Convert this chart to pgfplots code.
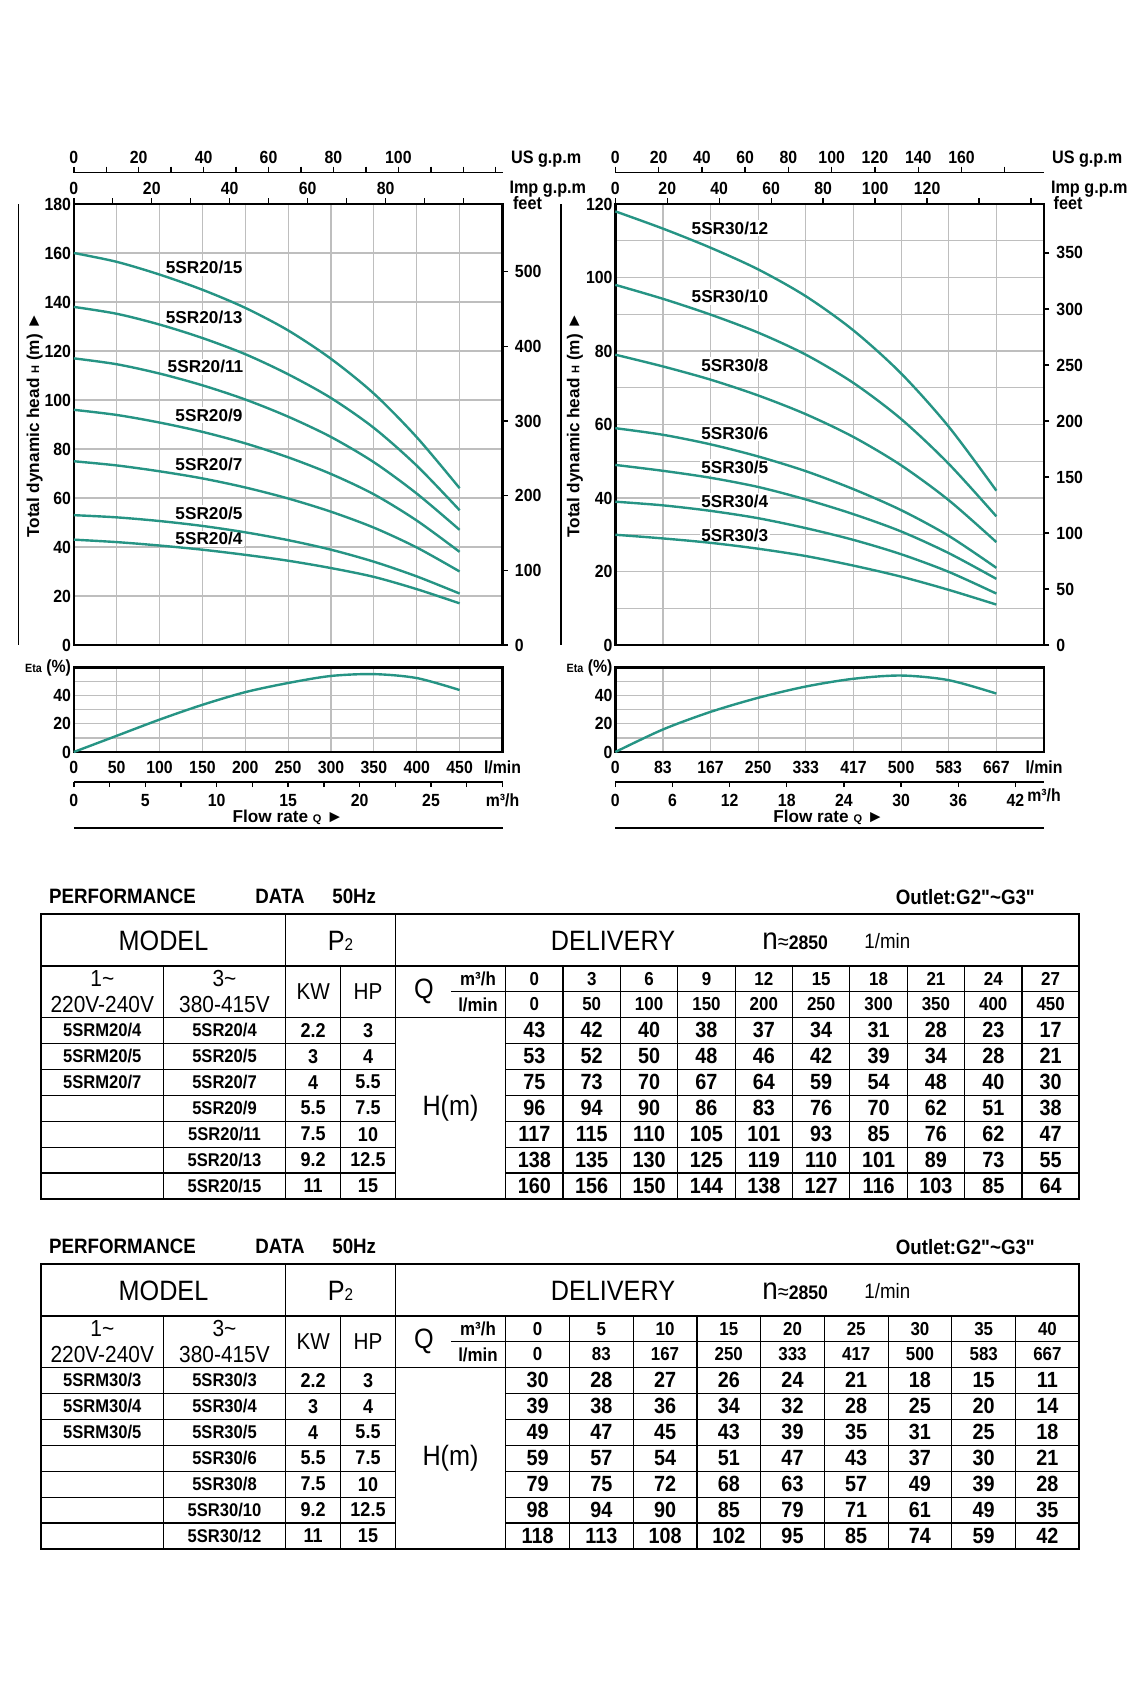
\documentclass[border=0pt]{standalone}
\usepackage{fontspec}
\setmainfont{Liberation Sans}[FakeStretch=0.9]
\newfontfamily\widefont{Liberation Sans}
\newfontfamily\rawfont{Liberation Sans}[FakeStretch=0.9, Ligatures=TeXOff]
\usepackage{pgfplots}
\usepackage{pgfplotstable}
\pgfplotsset{compat=1.18}
\pgfplotsset{/pgf/number format/assume math mode=true}
\definecolor{curvec}{RGB}{38,148,132}
\definecolor{gridc}{RGB}{190,190,190}

% curves (Q in l/min, H in m)
\pgfplotstableread{
Q H4 H5 H7 H9 H11 H13 H15
0 43 53 75 96 117 138 160
50 42 52.1 73.3 93.9 114.6 135.2 156.4
100 40.6 50.6 70.9 90.8 110.8 130.8 151.2
150 38.9 48.6 68.0 87.0 106.0 125.3 145.0
200 36.8 46.0 64.3 82.3 100.2 118.7 137.6
250 34.4 42.8 59.8 76.6 93.2 110.5 128.4
300 31.4 38.9 54.4 69.8 84.9 100.8 116.8
350 27.8 34.0 47.9 61.5 74.6 88.6 102.6
400 22.8 28.0 39.8 50.8 61.8 73.2 84.8
450 17 21 30 38 47 55 64
}\tabA

\pgfplotstableread{
Q H3 H4 H5 H6 H8 H10 H12
0 30 39 49 59 79 98 118
83.33 29.0 38.0 47.4 57.2 75.8 94.2 113.3
166.67 27.8 36.5 45.5 54.6 72.2 89.9 108.1
250 26.2 34.5 43.0 51.3 67.9 85.0 102.2
333.33 24.2 31.8 39.6 47.3 62.8 79.0 94.9
416.67 21.6 28.6 35.6 42.4 56.6 71.3 85.6
500 18.6 24.7 30.9 36.7 48.9 61.5 73.9
583.33 15.0 19.9 25.0 29.7 39.4 49.3 59.4
666.67 11 14 18 21 28 35 42
}\tabB

\pgfplotstableread{
Q Eta
0 0
50 11.5
100 23
150 33.5
200 42.5
250 49
300 54
350 55.3
400 52.5
450 44
}\etaA

\pgfplotstableread{
Q Eta
0 0
83.33 16
166.67 28.5
250 38.5
333.33 46.5
416.67 52
500 54.3
583.33 51
666.67 41.5
}\etaB

\newcommand\tickfont{\bfseries\fontsize{8.8}{10}\selectfont}
\newcommand\lblfont{\widefont\bfseries\fontsize{8.6}{10}\selectfont}

\pgfplotsset{
  mainax/.style={scale only axis, anchor=south west, width=214.35pt,
    axis line style={line width=1.2pt}, grid=major,
    grid style={gridc,line width=0.6pt}, major tick length=0pt,
    ticklabel style={font=\tickfont}, yticklabel style={inner xsep=1.2pt},
    xticklabel style={text height=6.4pt, yshift=-1pt},
    clip=false},
  thinax/.style={scale only axis, width=214.35pt, height=1pt, ymin=0, ymax=1,
    hide y axis, tick align=outside, major tick length=3pt,
    tick style={black,line width=0.7pt},
    ticklabel style={font=\tickfont}, xticklabel style={text height=6.4pt}},
  topax/.style={thinax, axis x line*=top, anchor=north west, xticklabel style={yshift=-1.9pt}},
  cplot/.style={curvec, line width=1.2pt, smooth, tension=0.5, no markers},
}

\tikzset{
  clabel/.style={font=\lblfont, anchor=east, fill=white, inner sep=0.8pt},
  tv/.style={font=\bfseries\fontsize{11}{12}\selectfont},
  tm/.style={font=\bfseries\fontsize{9.2}{10}\selectfont},
  tk/.style={font=\bfseries\fontsize{10}{11}\selectfont},
  tq/.style={font=\bfseries\fontsize{9.4}{10}\selectfont},
  tl/.style={line width=0.6pt},
  hd/.style={anchor=west, inner xsep=0pt, font=\bfseries\fontsize{10.4}{11}\selectfont},
}

\newcommand\mrow[5]{%
  \node[tm] at (102.3,{1030.28+#1*25.96}) {#2};
  \node[tm] at (224.5,{1030.28+#1*25.96}) {#3};
  \node[tk] at (313.2,{1030.28+#1*25.96}) {#4};
  \node[tk] at (368.0,{1030.28+#1*25.96}) {#5};
}

\newcommand\tableframe{%
  \draw[tl] (41.4,966) -- (1079.3,966) (451.4,991.7) -- (1079.3,991.7) (41.4,1017.3) -- (1079.3,1017.3);
  \foreach \yy in {1043.26,1069.22,1095.18,1121.14,1147.1,1173.06}
     \draw[tl] (41.4,\yy) -- (395.4,\yy) (505.7,\yy) -- (1079.3,\yy);
  \draw[tl] (163.2,966) -- (163.2,1199) (285.7,914) -- (285.7,1199)
            (340.7,966) -- (340.7,1199) (395.4,914) -- (395.4,1199)
            (505.7,966) -- (505.7,1199);
  \draw[line width=1pt] (41.4,914) rectangle (1079.3,1199);
  \node[hd] at (48.8,896.7) {PERFORMANCE};
  \node[hd] at (255,896.7) {DATA};
  \node[hd] at (332,896.7) {50Hz};
  \node[hd] at (895.5,897) {\rawfont Outlet:G2"\textasciitilde G3"};
  \node[font=\fontsize{14}{15}\selectfont] at (163.5,940.5) {MODEL};
  \node[font=\fontsize{14}{15}\selectfont] at (340.5,940.5) {P{\fontsize{8.5}{9}\selectfont 2}};
  \node[font=\fontsize{14}{15}\selectfont] at (613,940.5) {DELIVERY};
  \node[anchor=west, inner xsep=0pt] at (762,941) {{\fontsize{15.5}{15}\selectfont n}{\fontsize{11}{11}\selectfont ≈}{\fontsize{9.8}{10}\selectfont\bfseries 2850}};
  \node[anchor=west, inner xsep=0pt, font=\fontsize{10.4}{11}\selectfont] at (864,941) {1/min};
  \node[font=\fontsize{11.6}{12}\selectfont] at (102.3,978.5) {1\textasciitilde};
  \node[font=\fontsize{11.6}{12}\selectfont] at (102.3,1004.5) {220V-240V};
  \node[font=\fontsize{11.6}{12}\selectfont] at (224.5,978.5) {3\textasciitilde};
  \node[font=\fontsize{11.6}{12}\selectfont] at (224.5,1004.5) {380-415V};
  \node[font=\fontsize{11.5}{12}\selectfont] at (313.2,991.5) {KW};
  \node[font=\fontsize{11.5}{12}\selectfont] at (368,991.5) {HP};
  \node[font=\fontsize{14}{15}\selectfont] at (423.8,991.5) {Q};
  \node[tq] at (478,978.9) {m³/h};
  \node[tq] at (478,1004.5) {l/min};
  \node[font=\fontsize{14}{15}\selectfont] at (450.5,1108.3) {H(m)};
}

\begin{document}
\begin{tikzpicture}
\path[use as bounding box] (0pt,0pt) rectangle (566.5pt,-851pt);

% ================= LEFT CHART =================
\begin{axis}[mainax, at={(36.9pt,-322.5pt)}, height=220.5pt,
  xmin=0, xmax=500, ymin=0, ymax=180,
  xtick={0,50,...,500}, xticklabels={}, ytick={0,20,...,180}]
  \node[clabel] at (axis cs:199,154) {5SR20/15};
  \node[clabel] at (axis cs:199,133.6) {5SR20/13};
  \node[clabel] at (axis cs:200,113.6) {5SR20/11};
  \node[clabel] at (axis cs:199,93.9) {5SR20/9};
  \node[clabel] at (axis cs:199,73.9) {5SR20/7};
  \node[clabel] at (axis cs:199,53.8) {5SR20/5};
  \node[clabel] at (axis cs:199,43.4) {5SR20/4};
  \addplot[cplot] table[x=Q,y=H4]{\tabA};
  \addplot[cplot] table[x=Q,y=H5]{\tabA};
  \addplot[cplot] table[x=Q,y=H7]{\tabA};
  \addplot[cplot] table[x=Q,y=H9]{\tabA};
  \addplot[cplot] table[x=Q,y=H11]{\tabA};
  \addplot[cplot] table[x=Q,y=H13]{\tabA};
  \addplot[cplot] table[x=Q,y=H15]{\tabA};
\end{axis}
% feet axis
\begin{axis}[scale only axis, anchor=south west, at={(36.9pt,-322.5pt)}, width=214.35pt, height=220.5pt,
  xmin=0, xmax=500, ymin=0, ymax=590.551, hide x axis, axis y line*=right,
  axis line style={draw=none}, ytick={0,100,...,500}, tick align=outside,
  major tick length=2.7pt, tick style={black,line width=0.7pt},
  ticklabel style={font=\tickfont}]
  \addplot[draw=none] coordinates {(0,0)};
\end{axis}
% Imp gpm
\begin{axis}[topax, at={(36.9pt,-102pt)},
  axis line style={draw=none}, xmin=0, xmax=109.985,
  xtick={0,10,...,100}, xticklabels={0,,20,,40,,60,,80,,}]
  \addplot[draw=none] coordinates {(0,0)};
\end{axis}
% US gpm
\begin{axis}[topax, at={(36.9pt,-86.3pt)},
  axis line style={line width=0.9pt}, xmin=0, xmax=132.09,
  xtick={0,10,...,130}, xticklabels={0,,20,,40,,60,,80,,100,,,}]
  \addplot[draw=none] coordinates {(0,0)};
\end{axis}
% Eta
\begin{axis}[mainax, at={(36.9pt,-376pt)}, height=42.25pt,
  xmin=0, xmax=500, ymin=0, ymax=60,
  xtick={0,50,...,500}, xticklabels={0,50,100,150,200,250,300,350,400,450,l/min},
  ytick={0,10,...,60}, yticklabels={0,,20,,40,,{{\fontsize{6}{6}\selectfont Eta} (\%)}}]
  \addplot[cplot] table[x=Q,y=Eta]{\etaA};
\end{axis}
% m3/h
\begin{axis}[thinax, anchor=south west, at={(36.9pt,-391pt)}, axis x line*=bottom,
  axis line style={line width=0.9pt}, xmin=0, xmax=30,
  major tick length=2.5pt,
  xtick={0,2.5,...,30}, xticklabels={0,,5,,10,,15,,20,,25,,m³/h}]
  \addplot[draw=none] coordinates {(0,0)};
\end{axis}
\node[font=\lblfont] at (144pt,-408.5pt) {Flow rate {\fontsize{5.5}{6}\selectfont Q} ►};
\node[font=\lblfont, rotate=90] at (17.35pt,-212.5pt) {Total dynamic head {\fontsize{5.5}{6}\selectfont H} (m) ►};
\node[font=\bfseries\fontsize{9}{10}\selectfont, anchor=base west] at (252pt,-81.6pt) {US g.p.m};
\node[font=\bfseries\fontsize{9}{10}\selectfont, anchor=base west] at (251.25pt,-96.85pt) {Imp g.p.m};
\node[font=\bfseries\fontsize{9}{10}\selectfont, anchor=base] at (263.75pt,-104.75pt) {feet};
\draw[line width=0.9pt] (9.25pt,-102pt) -- (9.25pt,-322.5pt);
\draw[line width=0.9pt] (36.9pt,-414pt) -- (251.25pt,-414pt);

% ================= RIGHT CHART =================
\begin{axis}[mainax, at={(307.65pt,-322.5pt)}, height=220.5pt,
  xmin=0, xmax=750, ymin=0, ymax=120,
  xtick={0,83.333,166.667,250,333.333,416.667,500,583.333,666.667,750}, xticklabels={},
  ytick={0,10,...,120}, yticklabels={0,,20,,40,,60,,80,,100,,120}]
  \node[clabel] at (axis cs:271,113.4) {5SR30/12};
  \node[clabel] at (axis cs:271,94.8) {5SR30/10};
  \node[clabel] at (axis cs:271,76.2) {5SR30/8};
  \node[clabel] at (axis cs:271,57.6) {5SR30/6};
  \node[clabel] at (axis cs:271,48.4) {5SR30/5};
  \node[clabel] at (axis cs:271,39.2) {5SR30/4};
  \node[clabel] at (axis cs:271,29.7) {5SR30/3};
  \addplot[cplot] table[x=Q,y=H3]{\tabB};
  \addplot[cplot] table[x=Q,y=H4]{\tabB};
  \addplot[cplot] table[x=Q,y=H5]{\tabB};
  \addplot[cplot] table[x=Q,y=H6]{\tabB};
  \addplot[cplot] table[x=Q,y=H8]{\tabB};
  \addplot[cplot] table[x=Q,y=H10]{\tabB};
  \addplot[cplot] table[x=Q,y=H12]{\tabB};
\end{axis}
\begin{axis}[scale only axis, anchor=south west, at={(307.65pt,-322.5pt)}, width=214.35pt, height=220.5pt,
  xmin=0, xmax=750, ymin=0, ymax=393.7, hide x axis, axis y line*=right,
  axis line style={draw=none}, ytick={0,50,...,350}, tick align=outside,
  major tick length=2.7pt, tick style={black,line width=0.7pt},
  ticklabel style={font=\tickfont}]
  \addplot[draw=none] coordinates {(0,0)};
\end{axis}
\begin{axis}[topax, at={(307.65pt,-102pt)},
  axis line style={draw=none}, xmin=0, xmax=164.98,
  xtick={0,20,...,160}, xticklabels={0,20,40,60,80,100,120,,}]
  \addplot[draw=none] coordinates {(0,0)};
\end{axis}
\begin{axis}[topax, at={(307.65pt,-86.3pt)},
  axis line style={line width=0.9pt}, xmin=0, xmax=198.13,
  xtick={0,20,...,180}, xticklabels={0,20,40,60,80,100,120,140,160,}]
  \addplot[draw=none] coordinates {(0,0)};
\end{axis}
\begin{axis}[mainax, at={(307.65pt,-376pt)}, height=42.25pt,
  xmin=0, xmax=750, ymin=0, ymax=60,
  xtick={0,83.333,166.667,250,333.333,416.667,500,583.333,666.667,750},
  xticklabels={0,83,167,250,333,417,500,583,667,l/min},
  ytick={0,10,...,60}, yticklabels={0,,20,,40,,{{\fontsize{6}{6}\selectfont Eta} (\%)}}]
  \addplot[cplot] table[x=Q,y=Eta]{\etaB};
\end{axis}
\begin{axis}[thinax, anchor=south west, at={(307.65pt,-391pt)}, axis x line*=bottom,
  axis line style={line width=0.9pt}, xmin=0, xmax=45,
  major tick length=2.5pt, xtick={0,6,...,42},
  extra x ticks={45}, extra x tick labels={m³/h}, extra x tick style={major tick length=0pt}]
  \addplot[draw=none] coordinates {(0,0)};
\end{axis}
\node[font=\lblfont] at (414.3pt,-408.5pt) {Flow rate {\fontsize{5.5}{6}\selectfont Q} ►};
\node[font=\lblfont, rotate=90] at (287.5pt,-212.5pt) {Total dynamic head {\fontsize{5.5}{6}\selectfont H} (m) ►};
\node[font=\bfseries\fontsize{9}{10}\selectfont, anchor=base west] at (522.5pt,-81.6pt) {US g.p.m};
\node[font=\bfseries\fontsize{9}{10}\selectfont, anchor=base west] at (522pt,-96.85pt) {Imp g.p.m};
\node[font=\bfseries\fontsize{9}{10}\selectfont, anchor=base] at (534pt,-104.75pt) {feet};
\draw[line width=0.9pt] (280.5pt,-102pt) -- (280.5pt,-322.5pt);
\draw[line width=0.9pt] (307.65pt,-414pt) -- (522pt,-414pt);

% ================= TABLE 1 =================
\begin{scope}[x=0.5pt,y=-0.5pt]
  \tableframe
  \foreach \i in {1,...,9} \draw[tl] ({505.7+\i*57.36},966) -- ({505.7+\i*57.36},1199);
  \foreach \v [count=\i from 0] in {0,3,6,9,12,15,18,21,24,27}
    \node[tq] at ({505.7+(\i+0.5)*57.36},978.9) {\v};
  \foreach \v [count=\i from 0] in {0,50,100,150,200,250,300,350,400,450}
    \node[tq] at ({505.7+(\i+0.5)*57.36},1004.5) {\v};
  \foreach \row [count=\r from 0] in {{43,42,40,38,37,34,31,28,23,17},{53,52,50,48,46,42,39,34,28,21},{75,73,70,67,64,59,54,48,40,30},{96,94,90,86,83,76,70,62,51,38},{117,115,110,105,101,93,85,76,62,47},{138,135,130,125,119,110,101,89,73,55},{160,156,150,144,138,127,116,103,85,64}}
    \foreach \v [count=\i from 0] in \row
      \node[tv] at ({505.7+(\i+0.5)*57.36},{1030.28+\r*25.96}) {\v};
  \mrow{0}{5SRM20/4}{5SR20/4}{2.2}{3}
  \mrow{1}{5SRM20/5}{5SR20/5}{3}{4}
  \mrow{2}{5SRM20/7}{5SR20/7}{4}{5.5}
  \mrow{3}{}{5SR20/9}{5.5}{7.5}
  \mrow{4}{}{5SR20/11}{7.5}{10}
  \mrow{5}{}{5SR20/13}{9.2}{12.5}
  \mrow{6}{}{5SR20/15}{11}{15}
\end{scope}

% ================= TABLE 2 =================
\begin{scope}[x=0.5pt,y=-0.5pt,yshift=-175pt]
  \tableframe
  \foreach \i in {1,...,8} \draw[tl] ({505.7+\i*63.733},966) -- ({505.7+\i*63.733},1199);
  \foreach \v [count=\i from 0] in {0,5,10,15,20,25,30,35,40}
    \node[tq] at ({505.7+(\i+0.5)*63.733},978.9) {\v};
  \foreach \v [count=\i from 0] in {0,83,167,250,333,417,500,583,667}
    \node[tq] at ({505.7+(\i+0.5)*63.733},1004.5) {\v};
  \foreach \row [count=\r from 0] in {{30,28,27,26,24,21,18,15,11},{39,38,36,34,32,28,25,20,14},{49,47,45,43,39,35,31,25,18},{59,57,54,51,47,43,37,30,21},{79,75,72,68,63,57,49,39,28},{98,94,90,85,79,71,61,49,35},{118,113,108,102,95,85,74,59,42}}
    \foreach \v [count=\i from 0] in \row
      \node[tv] at ({505.7+(\i+0.5)*63.733},{1030.28+\r*25.96}) {\v};
  \mrow{0}{5SRM30/3}{5SR30/3}{2.2}{3}
  \mrow{1}{5SRM30/4}{5SR30/4}{3}{4}
  \mrow{2}{5SRM30/5}{5SR30/5}{4}{5.5}
  \mrow{3}{}{5SR30/6}{5.5}{7.5}
  \mrow{4}{}{5SR30/8}{7.5}{10}
  \mrow{5}{}{5SR30/10}{9.2}{12.5}
  \mrow{6}{}{5SR30/12}{11}{15}
\end{scope}
\end{tikzpicture}
\end{document}
